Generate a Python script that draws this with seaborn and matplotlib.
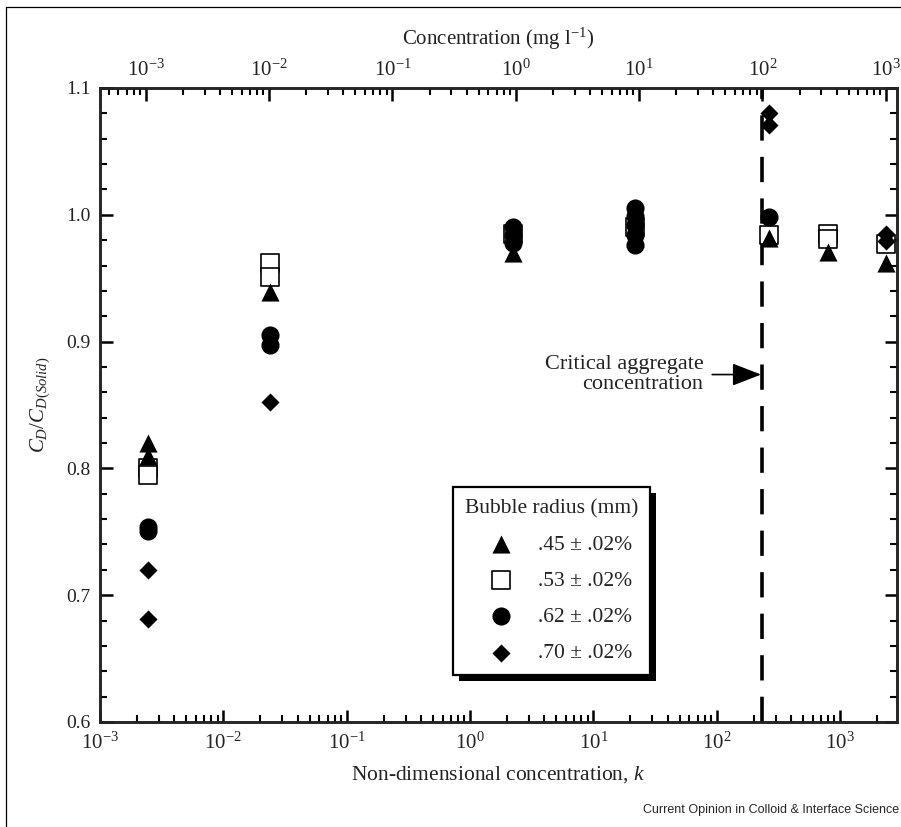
import matplotlib
matplotlib.use("Agg")
from matplotlib import pyplot as plt
from matplotlib.lines import Line2D
from matplotlib.patches import Rectangle
from matplotlib.transforms import IdentityTransform
from matplotlib.ticker import MultipleLocator, FormatStrFormatter
import pandas as pd
import seaborn as sns

# data (k = non-dimensional concentration)
tri_k = [0.00245, 0.00245, 0.024, 2.24, 21.9, 265, 795, 2340]
tri_cd = [0.820, 0.810, 0.939, 0.970, 0.982, 0.982, 0.971, 0.962]

sq_k = [0.00245, 0.00245, 0.024, 0.024, 2.24, 21.9, 265, 795, 795, 2340]
sq_cd = [0.800, 0.795, 0.962, 0.951, 0.985, 0.990, 0.984, 0.985, 0.981, 0.977]

circ_k = [0.00245, 0.00245, 0.024, 0.024, 2.24, 2.24, 2.24,
          21.9, 21.9, 21.9, 21.9, 21.9, 265]
circ_cd = [0.754, 0.751, 0.905, 0.897, 0.990, 0.984, 0.978,
           1.005, 0.999, 0.992, 0.984, 0.976, 0.998]

dia_k = [0.00245, 0.00245, 0.024, 265, 265, 2340, 2340]
dia_cd = [0.720, 0.681, 0.852, 1.080, 1.071, 0.985, 0.979]

radius_labels = [".45 \u00b1 .02%", ".53 \u00b1 .02%", ".62 \u00b1 .02%", ".70 \u00b1 .02%"]
decade_ticks = [1e-3, 1e-2, 1e-1, 1e0, 1e1, 1e2, 1e3]

k_to_conc = 2.35        # k / 2.35 = concentration in mg/l
critical_k = 235

sns.set_theme(style="ticks")
plt.rcParams["font.family"] = ["Liberation Serif", "DejaVu Serif"]
plt.rcParams["mathtext.fontset"] = "custom"
plt.rcParams["mathtext.rm"] = "Liberation Serif"
plt.rcParams["mathtext.it"] = "Liberation Serif:italic"
plt.rcParams["mathtext.bf"] = "Liberation Serif:bold"

fig = plt.figure(figsize=(9.01, 8.27), dpi=100)
ax = fig.add_axes([0.111, 0.127, 0.8846, 0.7666])

tri = pd.DataFrame({"k": tri_k, "cd": tri_cd})
sq = pd.DataFrame({"k": sq_k, "cd": sq_cd})
circ = pd.DataFrame({"k": circ_k, "cd": circ_cd})
dia = pd.DataFrame({"k": dia_k, "cd": dia_cd})

sns.scatterplot(data=sq, x="k", y="cd", marker="s", s=160, color="white",
                edgecolor="black", linewidth=1.2, ax=ax, zorder=3, label=radius_labels[1])
sns.scatterplot(data=tri, x="k", y="cd", marker="^", s=170, color="black",
                edgecolor="black", linewidth=0, ax=ax, zorder=3, label=radius_labels[0])
sns.scatterplot(data=circ, x="k", y="cd", marker="o", s=170, color="black",
                edgecolor="black", linewidth=0, ax=ax, zorder=3, label=radius_labels[2])
sns.scatterplot(data=dia, x="k", y="cd", marker="D", s=85, color="black",
                edgecolor="black", linewidth=0, ax=ax, zorder=3, label=radius_labels[3])
handles, labels = ax.get_legend_handles_labels()
ax.get_legend().remove()

ax.set_xscale("log")
ax.set_xticks(decade_ticks)
ax.set_xlim(1e-3, 2900)
ax.set_ylim(0.6, 1.1)
ax.yaxis.set_major_locator(MultipleLocator(0.1))
ax.yaxis.set_minor_locator(MultipleLocator(0.02))
ax.yaxis.set_major_formatter(FormatStrFormatter("%.1f"))

ax.axvline(critical_k, color="black", lw=2.6, dashes=(7, 4.5), zorder=2)

ax.annotate("Critical aggregate\nconcentration", xy=(critical_k, 0.874),
            xytext=(78, 0.874), ha="right", va="center", multialignment="right",
            fontsize=16, color="#222222", linespacing=1.1,
            arrowprops=dict(arrowstyle="-|>,head_length=0.9,head_width=0.35",
                            mutation_scale=20, color="black", lw=1.2,
                            shrinkA=4, shrinkB=1))

for side in ax.spines.values():
    side.set_linewidth(1.8)
    side.set_color("black")
ax.tick_params(which="both", direction="in", top=False, right=True,
               colors="black", labelcolor="#222222")
ax.tick_params(axis="y", labelsize=14)
ax.tick_params(axis="x", labelsize=15)
ax.tick_params(which="major", length=9, width=1.8, pad=7)
ax.tick_params(which="minor", length=5, width=1.5)
ax.tick_params(axis="x", which="major", pad=8)

ax.set_xlabel("Non-dimensional concentration, $k$", fontsize=15.5, color="#222222", labelpad=7)
ax.set_ylabel("$C_D/C_{D(Solid)}$", fontsize=15, color="#222222", labelpad=10)

# top axis: concentration in mg/l
ax2 = ax.twiny()
ax2.set_xscale("log")
ax2.set_xticks(decade_ticks)
ax2.set_xlim(1e-3 / k_to_conc, 2900 / k_to_conc)
ax2.tick_params(which="both", direction="in", colors="black",
                labelsize=15, labelcolor="#222222")
ax2.tick_params(which="major", length=9, width=1.8, pad=5)
ax2.tick_params(which="minor", length=5, width=1.5)
for side in ax2.spines.values():
    side.set_linewidth(1.8)
ax2.set_xlabel("Concentration (mg l$\\mathregular{^{-1}}$)", fontsize=15,
               color="#222222", labelpad=11)

order = [labels.index(l) for l in radius_labels]
leg = ax2.legend([handles[i] for i in order], [labels[i] for i in order],
                 title="Bubble radius (mm)", loc="lower left",
                 bbox_to_anchor=(0.443, 0.074), borderaxespad=0,
                 fontsize=15.5, title_fontsize=15.5, frameon=True, fancybox=False,
                 framealpha=1, edgecolor="black", handlelength=2.8,
                 handletextpad=0.3, borderpad=0.55, labelspacing=0.75)
leg.get_frame().set_linewidth(1.6)
for t in leg.get_texts():
    t.set_color("#222222")
leg.get_title().set_color("#222222")
leg.set_zorder(6)

# drop shadow behind the legend box
fig.canvas.draw()
bb = leg.get_window_extent()
shadow = Rectangle((bb.x0 + 6, bb.y0 - 6), bb.width, bb.height, transform=IdentityTransform(),
                   facecolor="black", edgecolor="none", zorder=5.5, clip_on=False)
ax2.add_artist(shadow)

# thin page frame
fig.add_artist(Line2D([6 / 901, 6 / 901], [0, 1 - 7 / 827], transform=fig.transFigure,
                      color="black", lw=0.9))
fig.add_artist(Line2D([6 / 901, 1], [1 - 7 / 827, 1 - 7 / 827], transform=fig.transFigure,
                      color="black", lw=0.9))

fig.text(0.998, 1 - 810 / 827, "Current Opinion in Colloid & Interface Science",
         ha="right", va="center", fontsize=9, family=["Liberation Sans", "DejaVu Sans"])

fig.savefig("out.png", dpi=100)
